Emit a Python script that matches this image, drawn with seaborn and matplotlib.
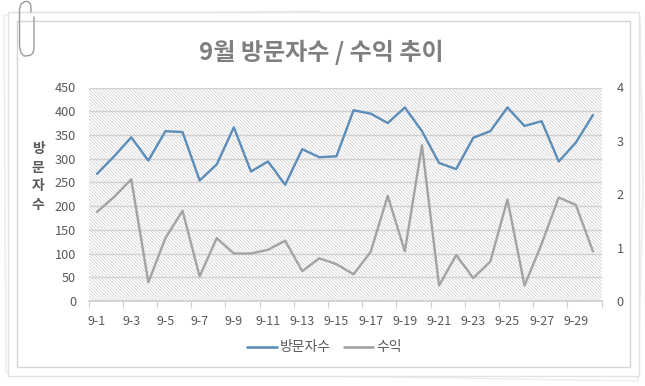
import matplotlib
matplotlib.use("Agg")
import matplotlib.pyplot as plt
import seaborn as sns
import pandas as pd
from matplotlib.patches import Rectangle, Polygon
from matplotlib.lines import Line2D

days = [f"9-{d}" for d in range(1, 31)]
visitors = [268, 305, 345, 296, 358, 356, 254, 288, 366, 273, 294, 245, 320, 303, 305,
            402, 395, 375, 408, 358, 291, 278, 344, 358, 408, 369, 379, 294, 334, 392]
revenue = [1.67, 1.95, 2.28, 0.35, 1.18, 1.69, 0.46, 1.18, 0.89, 0.89, 0.96, 1.13, 0.56, 0.80, 0.69,
           0.50, 0.92, 1.97, 0.93, 2.92, 0.29, 0.86, 0.43, 0.74, 1.90, 0.29, 1.07, 1.94, 1.80, 0.93]
title = "9월 방문자수 / 수익 추이"
y_label = "방\n문\n자\n수"
name_v, name_r = "방문자수", "수익"

BLUE, GRAY = "#5b8db8", "#a3a3a3"
TXT = "#595959"

sns.set_theme(style="white")
plt.rcParams["font.family"] = ["Noto Sans CJK KR", "DejaVu Sans"]
plt.rcParams["hatch.linewidth"] = 0.6
plt.rcParams["hatch.color"] = "#d4d4d4"

W, H = 645, 386
fig = plt.figure(figsize=(W / 100, H / 100), dpi=100, facecolor="white")

# decorative paper background in pixel coordinates
bg = fig.add_axes([0, 0, 1, 1], zorder=0)
bg.set_xlim(0, W); bg.set_ylim(H, 0); bg.axis("off")
bg.add_patch(Polygon([(4, 15), (319, 11), (319, 372), (6, 373)], fc="white", ec="#ececec", lw=1))
bg.add_patch(Polygon([(319, 14), (640, 16), (643, 190), (638, 381), (320, 376)], fc="white", ec="#ececec", lw=1))
bg.add_patch(Rectangle((9, 13), 1, 362, fc="#e0e0e0", ec="none"))
bg.add_patch(Rectangle((8, 12), 631, 364, fc="white", ec="#e2e2e2", lw=1.0))
bg.add_patch(Rectangle((16.5, 20.5), 613, 346.5, fc="white", ec="#d6d6d6", lw=1.0))
clip_x = [34, 34, 33, 30, 24, 21, 19.5, 19.5, 21, 25, 28, 30.5, 31, 31]
clip_y = [17, 48, 53, 55.5, 56, 53, 46, 9, 4, 1.5, 1.5, 4, 8, 12]
bg.plot(clip_x, clip_y, color="#9a9a9a", lw=1.0, solid_capstyle="round")

# chart
left, right, top, bottom = 88.5, 601.5, 87.5, 301
ax = fig.add_axes([left / W, 1 - bottom / H, (right - left) / W, (bottom - top) / H], zorder=2)
df = pd.DataFrame({"x": range(len(days)), "v": visitors, "r": revenue})
ax.set_facecolor("white")
ax.patch.set_hatch("\\" * 10)
ax.patch.set_edgecolor("#d4d4d4")
ax.patch.set_linewidth(0)
sns.lineplot(data=df, x="x", y="v", ax=ax, color=BLUE, lw=1.7, zorder=4, label=name_v, legend=False)
ax.set_xlim(-0.5, 29.5)
ax.set_ylim(0, 450)
ax.set_yticks(range(0, 451, 50))
ax.grid(axis="y", color="#d2d2d2", lw=1)
ax.grid(axis="x", visible=False)
ax.set_axisbelow(True)
ax.set_xticks([k - 0.5 for k in range(0, 31, 2)])
ax.set_xticklabels([])
ax.set_xticks(range(0, 30, 2), minor=True)
ax.set_xticklabels(days[::2], minor=True)
ax.tick_params(axis="x", which="major", length=5, width=0.8, color="#d0d0d0", bottom=True)
ax.tick_params(axis="x", which="minor", length=0, pad=10, labelsize=9, labelcolor=TXT)
ax.tick_params(axis="y", length=0, pad=9, labelsize=9.2, labelcolor=TXT)
ax.set_xlabel(""); ax.set_ylabel("")
for s in ["top", "left", "right"]:
    ax.spines[s].set_visible(False)
ax.spines["bottom"].set_color("#d0d0d0")

ax2 = ax.twinx()
ax2.set_zorder(3)
sns.lineplot(data=df, x="x", y="r", ax=ax2, color=GRAY, lw=1.7, label=name_r, legend=False)
ax2.set_ylim(0, 4)
ax2.set_yticks(range(0, 5))
ax2.tick_params(axis="y", length=0, pad=11, labelsize=9.2, labelcolor=TXT)
ax2.set_ylabel(""); ax2.grid(False)
for s in ax2.spines.values():
    s.set_visible(False)

fig.text(321.5 / W, 1 - 52 / H, title, ha="center", va="center", fontsize=17.3, fontweight="bold", color="#7f7f7f")
fig.text(38 / W, 1 - 177 / H, y_label, ha="center", va="center", fontsize=10, fontweight="bold",
         color=TXT, linespacing=1.45)
fig.legend(handles=[Line2D([], [], color=BLUE, lw=1.9), Line2D([], [], color=GRAY, lw=1.9)],
           labels=[name_v, name_r], loc="center", bbox_to_anchor=(324.5 / W, 1 - 347.5 / H), ncol=2,
           frameon=False, fontsize=10, labelcolor=TXT, handlelength=2.1, handletextpad=0.2,
           columnspacing=1.0, borderpad=0)
fig.savefig("out.png", dpi=100)
